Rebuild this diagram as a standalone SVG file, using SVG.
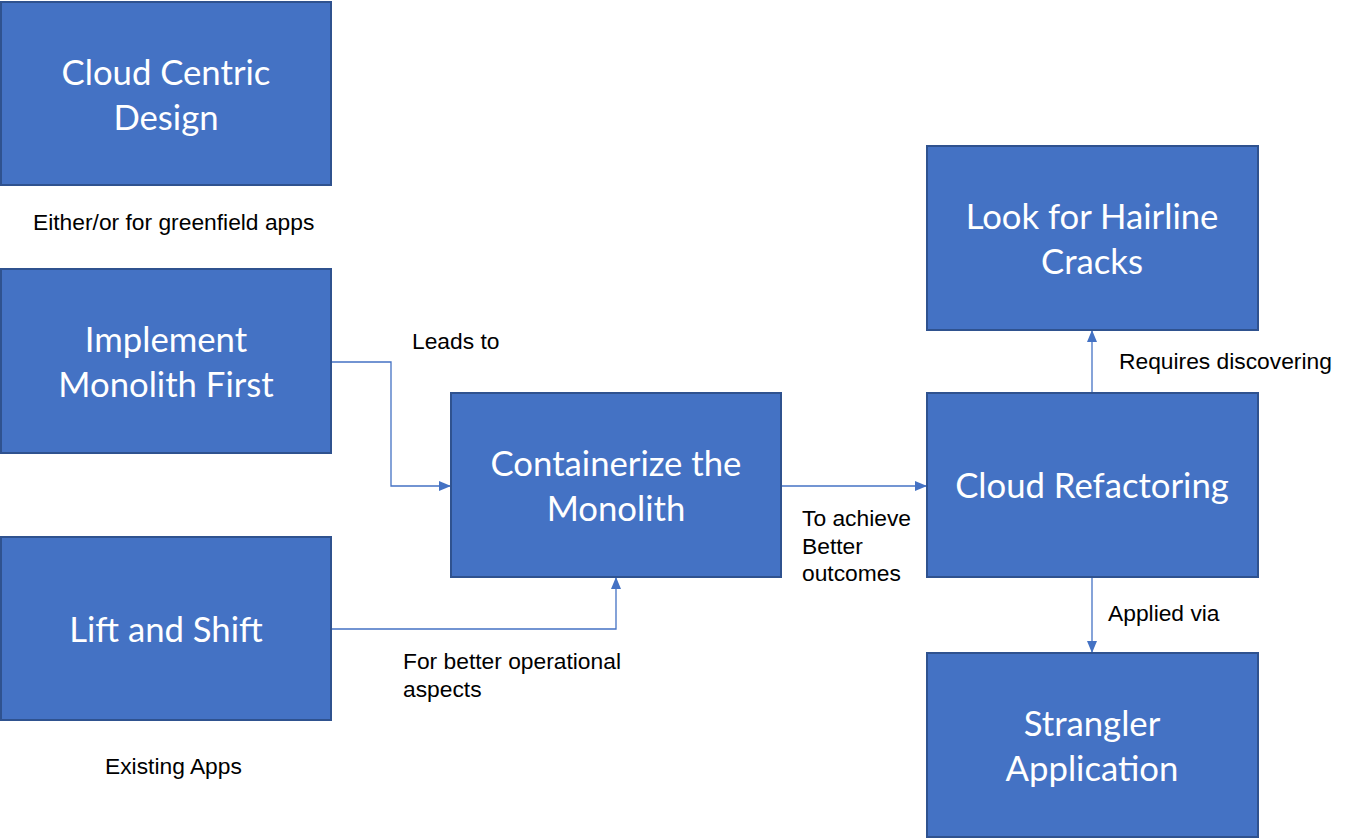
<svg xmlns="http://www.w3.org/2000/svg" width="1352" height="839" viewBox="0 0 1352 839">
<defs>
<style>
.box{fill:#4472C4;stroke:#2F528F;stroke-width:2}
.nt{font-family:"Lato","Open Sans",sans-serif;font-size:34.7px;fill:#fff;text-anchor:middle}
.lb{font-family:"Liberation Sans",Arial,sans-serif;font-size:22.8px;fill:#000}
.cn{fill:none;stroke:#4472C4;stroke-width:1.3}
</style>
<marker id="ah" markerWidth="12" markerHeight="12" refX="11" refY="6" orient="auto" markerUnits="userSpaceOnUse"><path d="M0,1 L12,6 L0,11 Z" fill="#4472C4"/></marker>
</defs>
<rect width="1352" height="839" fill="#fff"/>
<g id="connectors">
<path class="cn" d="M331,362 H391 V486 H450" marker-end="url(#ah)"/>
<path class="cn" d="M331,629 H616 V578" marker-end="url(#ah)"/>
<path class="cn" d="M781,486 H926" marker-end="url(#ah)"/>
<path class="cn" d="M1092,393 V331" marker-end="url(#ah)"/>
<path class="cn" d="M1092,577 V652" marker-end="url(#ah)"/>
</g>
<g id="n-cloud-centric"><rect class="box" x="1" y="2" width="330" height="183"/><text class="nt" x="166" y="85">Cloud Centric</text><text class="nt" x="166" y="130">Design</text></g>
<g id="n-monolith-first"><rect class="box" x="1" y="269" width="330" height="184"/><text class="nt" x="166" y="352">Implement</text><text class="nt" x="166" y="397">Monolith First</text></g>
<g id="n-lift-shift"><rect class="box" x="1" y="537" width="330" height="183"/><text class="nt" x="166" y="642">Lift and Shift</text></g>
<g id="n-containerize"><rect class="box" x="451" y="393" width="330" height="184"/><text class="nt" x="616" y="476">Containerize the</text><text class="nt" x="616" y="521">Monolith</text></g>
<g id="n-refactoring"><rect class="box" x="927" y="393" width="331" height="184"/><text class="nt" x="1092" y="498">Cloud Refactoring</text></g>
<g id="n-hairline"><rect class="box" x="927" y="146" width="331" height="184"/><text class="nt" x="1092" y="229">Look for Hairline</text><text class="nt" x="1092" y="274">Cracks</text></g>
<g id="n-strangler"><rect class="box" x="927" y="653" width="331" height="184"/><text class="nt" x="1092" y="736">Strangler</text><text class="nt" x="1092" y="781">Application</text></g>
<g id="labels">
<text class="lb" x="33" y="230">Either/or for greenfield apps</text>
<text class="lb" x="412" y="349">Leads to</text>
<text class="lb" x="403" y="669">For better operational</text>
<text class="lb" x="403" y="697">aspects</text>
<text class="lb" x="802" y="526">To achieve</text>
<text class="lb" x="802" y="554">Better</text>
<text class="lb" x="802" y="581">outcomes</text>
<text class="lb" x="1119" y="369">Requires discovering</text>
<text class="lb" x="1108" y="621">Applied via</text>
<text class="lb" x="105" y="774">Existing Apps</text>
</g>
</svg>
